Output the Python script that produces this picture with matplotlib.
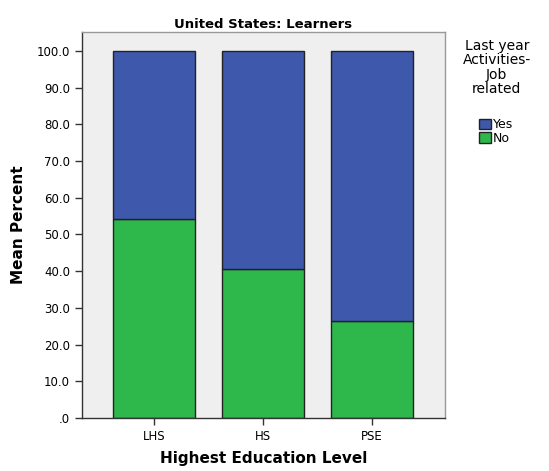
import numpy as np
import matplotlib.pyplot as plt
from matplotlib.patches import Patch

categories = ['LHS', 'HS', 'PSE']
no_vals = [54.3, 40.6, 26.4]
yes_vals = [45.7, 59.4, 73.6]
yticks = [0, 10, 20, 30, 40, 50, 60, 70, 80, 90, 100]
ytick_labels = ['.0', '10.0', '20.0', '30.0', '40.0', '50.0', '60.0', '70.0', '80.0', '90.0', '100.0']

blue = '#3E58AC'
green = '#2EB84B'

fig = plt.figure(figsize=(5.49, 4.71), dpi=100)
ax = fig.add_axes([0.149, 0.1125, 0.662, 0.82])
ax.set_facecolor('#EFEFEF')

x = np.arange(len(categories))
ax.bar(x, no_vals, width=0.75, color=green, edgecolor='#222222', linewidth=1.0)
ax.bar(x, yes_vals, width=0.75, bottom=no_vals, color=blue, edgecolor='#222222', linewidth=1.0)

ax.set_xlim(-0.66, 2.67)
ax.set_ylim(0, 105.2)
ax.set_yticks(yticks)
ax.set_yticklabels(ytick_labels, fontsize=8.5)
ax.set_xticks(x)
ax.set_xticklabels(categories, fontsize=8.5)
ax.tick_params(axis='both', direction='out', length=5, width=1, color='#333333')

for s in ['top', 'right']:
    ax.spines[s].set_color('#999999')
for s in ['left', 'bottom']:
    ax.spines[s].set_color('#333333')
for s in ax.spines.values():
    s.set_linewidth(1.0)

ax.set_title('United States: Learners', fontsize=9.5, fontweight='bold', pad=3)
ax.set_ylabel('Mean Percent', fontsize=11, fontweight='bold', labelpad=8)
ax.set_xlabel('Highest Education Level', fontsize=11, fontweight='bold', labelpad=6)

fig.text(0.905, 0.918, 'Last year\nActivities-\nJob\nrelated', ha='center', va='top',
         fontsize=10, linespacing=1.05)
handles = [Patch(facecolor=blue, edgecolor='#222222', label='Yes'),
           Patch(facecolor=green, edgecolor='#222222', label='No')]
fig.legend(handles=handles, loc='upper left', bbox_to_anchor=(0.862, 0.762),
           frameon=False, fontsize=9, handlelength=0.9, handleheight=0.9,
           handletextpad=0.15, labelspacing=0.05, borderpad=0)

fig.savefig('out.png', dpi=100)
